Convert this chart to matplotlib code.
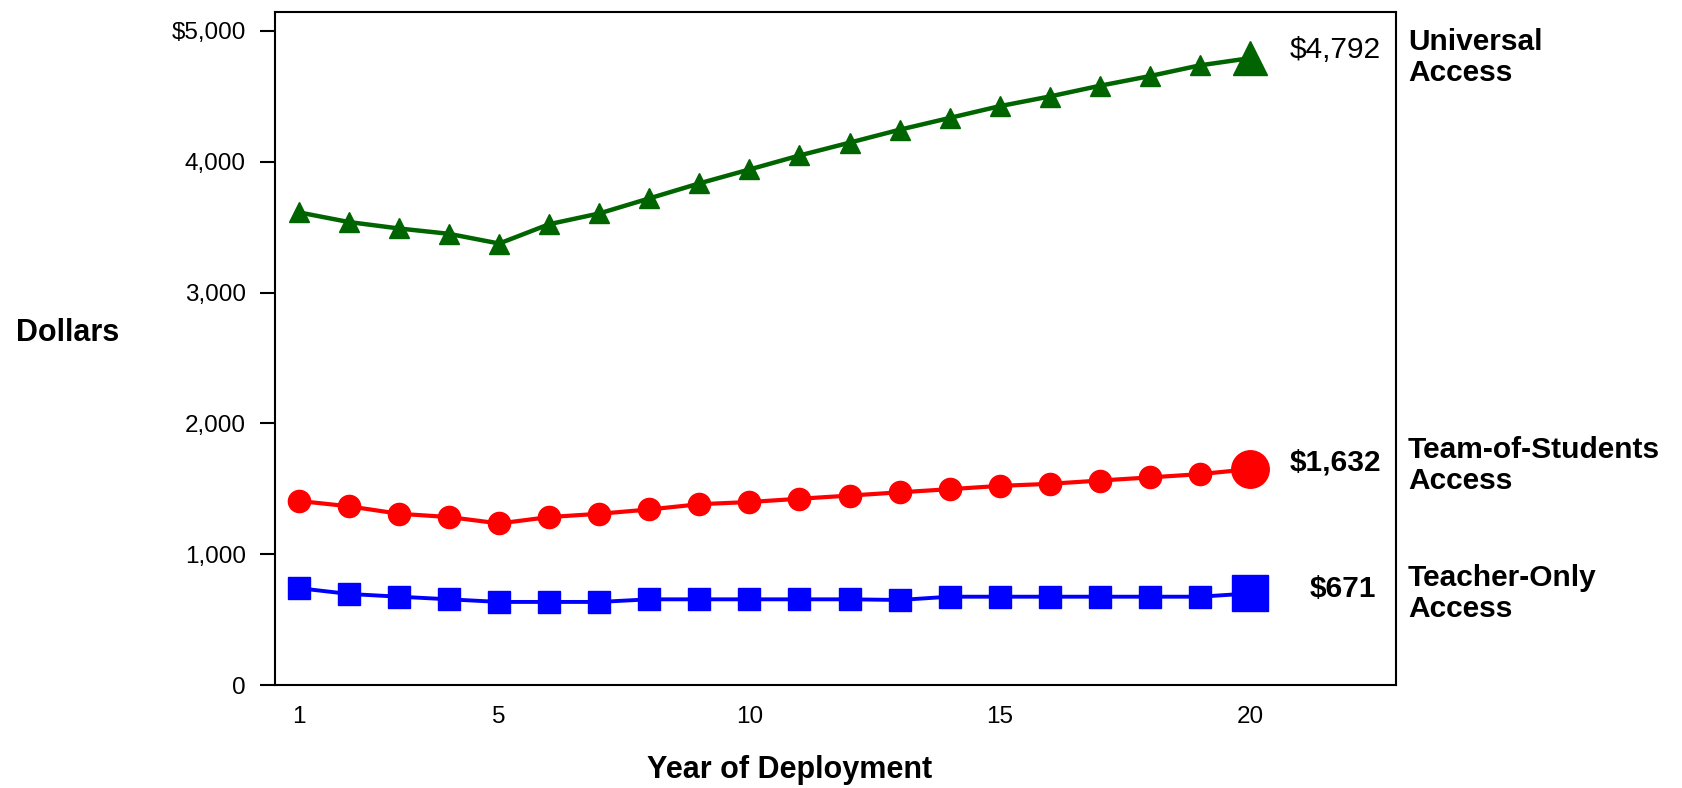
import matplotlib
matplotlib.use("Agg")
import matplotlib.pyplot as plt

plt.rcParams['font.family'] = ['Liberation Sans', 'DejaVu Sans']

years = list(range(1, 21))
universal = [3613, 3539, 3490, 3449, 3375, 3523, 3605, 3720, 3835, 3941,
             4048, 4146, 4245, 4335, 4425, 4499, 4581, 4655, 4737, 4792]
team = [1407, 1366, 1309, 1284, 1235, 1284, 1309, 1342, 1382, 1399,
        1424, 1448, 1473, 1497, 1522, 1538, 1563, 1587, 1612, 1650]
teacher = [740, 696, 675, 655, 635, 635, 635, 655, 655, 655,
           655, 655, 650, 675, 675, 675, 675, 675, 675, 700]
end_labels = ["$4,792", "$1,632", "$671"]
series_names = ["Universal\nAccess", "Team-of-Students\nAccess", "Teacher-Only\nAccess"]
xticks = [1, 5, 10, 15, 20]
yticks = [0, 1000, 2000, 3000, 4000, 5000]
ytick_labels = ["0", "1,000", "2,000", "3,000", "4,000", "$5,000"]

W, H = 1682, 788
fig = plt.figure(figsize=(W / 100, H / 100), dpi=100)
ax = fig.add_axes([275 / W, 1 - 685 / H, (1396 - 275) / W, (685 - 12) / H])

styles = [
    (universal, '#006400', '^', 14, 24, 3.2, False),
    (team, '#ff0000', 'o', 16, 27, 3.0, True),
    (teacher, '#0000ff', 's', 16, 26, 2.8, True),
]
for vals, col, mk, ms, bigms, lw, bold in styles:
    ax.plot(years, vals, color=col, lw=lw, marker=mk, ms=ms,
            markevery=list(range(len(years) - 1)), mec=col, mfc=col, zorder=3)
    ax.plot(years[-1:], vals[-1:], linestyle='none', marker=mk, ms=bigms,
            color=col, mec=col, zorder=4)

label_weights = ['normal', 'bold', 'bold']
label_offsets = [6, 5, 3]
label_x = [22.62, 22.62, 22.52]
for (vals, *_), lab, wt, off, lx in zip(styles, end_labels, label_weights, label_offsets, label_x):
    ax.annotate(lab, xy=(lx, vals[-1]), xycoords='data',
                xytext=(0, off), textcoords='offset points',
                ha='right', va='center', fontsize=21.5, fontweight=wt, color='black')

ax.set_xlim(0.52, 22.92)
ax.set_ylim(0, 5145)
ax.set_xticks(xticks)
ax.set_xticklabels([str(t) for t in xticks])
ax.set_yticks(yticks)
ax.set_yticklabels(ytick_labels)
ax.tick_params(axis='x', length=0, pad=15, labelsize=17.5)
ax.tick_params(axis='y', length=11, width=1.5, pad=10, labelsize=17.5, direction='out')
for s in ax.spines.values():
    s.set_linewidth(1.5)
    s.set_color('black')

fig.text(68 / W, 1 - 333 / H, "Dollars", ha='center', va='center',
         fontsize=22, fontweight='bold')
fig.text(790 / W, 1 - 770 / H, "Year of Deployment", ha='center', va='center',
         fontsize=22, fontweight='bold')

name_tops = [28, 436, 564]
for name, top in zip(series_names, name_tops):
    fig.text(1408 / W, 1 - top / H, name, ha='left', va='top',
             fontsize=21.5, fontweight='bold', linespacing=1.12)

fig.savefig("out.png", dpi=100)
